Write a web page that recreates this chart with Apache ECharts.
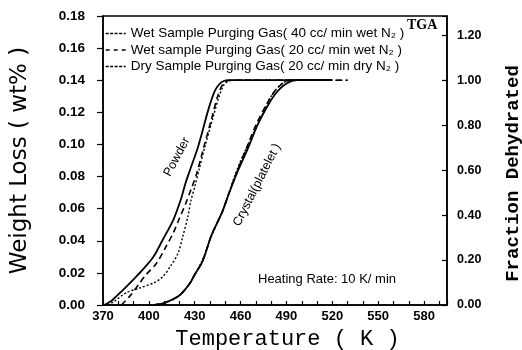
<!DOCTYPE html>
<html>
<head>
<meta charset="utf-8">
<script src="https://cdn.jsdelivr.net/npm/echarts@6/dist/echarts.min.js"></script>
<style>
  html, body { margin: 0; padding: 0; background: #fff; }
  #chart { width: 522px; height: 350px; }
</style>
</head>
<body>
<div id="chart"></div>
<script>
// legend names
const seriesNames = [
  'Wet Sample Purging Gas( 40 cc/ min wet N\u2082 )',
  'Wet sample Purging Gas( 20 cc/ min wet N\u2082 )',
  'Dry Sample Purging Gas( 20 cc/ min dry N\u2082 )'
];

// [temperature K, weight loss]
const powderWet40 = [[371, 0], [376, 0.003], [383, 0.0093], [390, 0.016], [396, 0.022], [403, 0.030],
  [409, 0.0405], [416, 0.053], [421, 0.066], [424, 0.076], [428, 0.087], [432, 0.098], [435, 0.108],
  [439, 0.122], [443, 0.133], [446, 0.1375], [449, 0.1395], [452, 0.14], [520, 0.14]];
const powderWet20 = [[382, 0], [388, 0.006], [394, 0.0137], [398, 0.0187], [405, 0.026], [411, 0.036],
  [416, 0.045], [420, 0.054], [424, 0.063], [428, 0.073], [431, 0.081], [435, 0.095], [441, 0.116],
  [445, 0.13], [448, 0.137], [451, 0.1395], [454, 0.14], [530, 0.14]];
const powderDry20 = [[373, 0], [377, 0.002], [385, 0.0075], [394, 0.0106], [403, 0.0137], [409, 0.0175],
  [414, 0.024], [419, 0.032], [422, 0.042], [425.5, 0.055], [427.5, 0.065], [430, 0.0735], [433, 0.085],
  [437, 0.1], [442, 0.117], [446, 0.13], [449, 0.137], [452, 0.1395], [455, 0.14], [515, 0.14]];

const crystalWet40 = [[405, 0], [412, 0.002], [420, 0.006], [427, 0.0137], [430, 0.019], [435, 0.027],
  [441, 0.0436], [448, 0.058], [452, 0.0685], [458, 0.083], [465, 0.098], [471, 0.112], [478, 0.1246],
  [484, 0.133], [490, 0.138], [497, 0.14], [520, 0.14]];
const crystalWet20 = [[403, 0], [412, 0.002], [420, 0.006], [427, 0.0137], [430, 0.019], [435, 0.027],
  [441, 0.0436], [448, 0.058], [452, 0.0685], [458, 0.084], [464, 0.098], [470, 0.112], [477, 0.125],
  [483, 0.134], [489, 0.139], [495, 0.14], [530, 0.14]];
const crystalDry20 = [[400, 0], [410, 0.001], [420, 0.006], [427, 0.014], [435, 0.028], [441, 0.043],
  [448, 0.058], [452, 0.069], [456, 0.08], [461, 0.092], [467, 0.104], [474, 0.118], [480, 0.13],
  [486, 0.137], [492, 0.14], [515, 0.14]];

// axis ranges
const tempMin = 370, tempMax = 595, tempStep = 10, tempLabelStep = 30;
const lossMax = 0.18, lossStep = 0.02;
const fractionMax = 0.18 / 0.14, fractionStep = 0.2;

const chart = echarts.init(document.getElementById('chart'), null, { renderer: 'canvas' });

const lineStyles = [
  { color: '#000', width: 1.8, type: 'solid' },
  { color: '#000', width: 1.6, type: [6, 4] },
  { color: '#000', width: 1.4, type: [2, 2] }
];

function makeSeries(name, data, style) {
  return {
    name: name,
    type: 'line',
    data: data,
    symbol: 'none',
    smooth: 0.3,
    lineStyle: style,
    itemStyle: { color: '#000' },
    z: 3
  };
}

const option = {
  animation: false,
  backgroundColor: '#fff',
  grid: {
    left: 103, right: 75, top: 16, bottom: 45,
    outerBoundsMode: 'none',
    show: true, borderColor: '#000', borderWidth: 1.5
  },
  legend: {
    orient: 'vertical',
    left: 105,
    top: 26.5,
    padding: 0,
    itemWidth: 20,
    itemHeight: 12,
    itemGap: 2.5,
    selectedMode: false,
    itemStyle: { color: 'rgba(0,0,0,0)', borderColor: 'rgba(0,0,0,0)', borderWidth: 0 },
    textStyle: { fontFamily: 'Liberation Sans', fontSize: 13.5, color: '#000' },
    data: [
      { name: seriesNames[0], lineStyle: { type: [3, 1.5], width: 1.3 } },
      { name: seriesNames[1], lineStyle: { type: [4, 4], width: 1.3 } },
      { name: seriesNames[2], lineStyle: { type: [3, 1.5], width: 1.3 } }
    ]
  },
  xAxis: {
    type: 'value',
    min: tempMin,
    max: tempMax,
    interval: tempStep,
    name: 'Temperature ( K )',
    nameLocation: 'middle',
    nameGap: 22,
    nameTextStyle: { fontFamily: 'Liberation Mono', fontSize: 22, color: '#000', padding: [0, 0, 0, 25] },
    axisLine: { lineStyle: { color: '#000', width: 1.5 } },
    axisTick: { inside: true, length: 4, lineStyle: { color: '#000', width: 1.2 } },
    axisLabel: {
      margin: 5,
      fontFamily: 'Liberation Sans', fontWeight: 'bold', fontSize: 13, color: '#000',
      formatter: v => ((v - tempMin) % tempLabelStep === 0 && v <= 580) ? String(v) : ''
    },
    splitLine: { show: false }
  },
  yAxis: [
    {
      type: 'value',
      position: 'left',
      min: 0,
      max: lossMax,
      interval: lossStep,
      name: 'Weight Loss ( wt% )',
      nameLocation: 'middle',
      nameRotate: 90,
      nameGap: 71,
      nameTextStyle: { fontFamily: 'DejaVu Sans', fontSize: 23, color: '#000' },
      axisLine: { show: true, lineStyle: { color: '#000', width: 1.5 } },
      axisTick: { show: true, length: 6, lineStyle: { color: '#000', width: 1.2 } },
      axisLabel: {
        margin: 18,
        fontFamily: 'Liberation Sans', fontWeight: 'bold', fontSize: 13.5, color: '#000',
        formatter: v => v.toFixed(2)
      },
      splitLine: { show: false }
    },
    {
      type: 'value',
      position: 'right',
      min: 0,
      max: fractionMax,
      interval: fractionStep,
      name: 'Fraction Dehydrated',
      nameLocation: 'middle',
      nameRotate: 90,
      nameGap: 57,
      nameTextStyle: { fontFamily: 'Liberation Mono', fontWeight: 'bold', fontSize: 19, color: '#000', padding: [0, 26, 0, 0] },
      axisLine: { show: true, lineStyle: { color: '#000', width: 1.5 } },
      axisTick: { show: true, inside: true, length: 5, lineStyle: { color: '#000', width: 1.2 } },
      axisLabel: {
        margin: 10,
        fontFamily: 'Liberation Sans', fontWeight: 'bold', fontSize: 12.5, color: '#000',
        formatter: v => v > 1.21 ? '' : v.toFixed(2)
      },
      splitLine: { show: false }
    }
  ],
  graphic: [
    {
      type: 'text', x: 407, y: 25,
      style: { text: 'TGA', font: 'bold 14px "Liberation Serif"', fill: '#000',
        textAlign: 'left', textVerticalAlign: 'middle', align: 'left', verticalAlign: 'middle' }
    },
    {
      type: 'text', x: 258, y: 279,
      style: { text: 'Heating Rate: 10 K/ min', font: '13px "Liberation Sans"', fill: '#000',
        textAlign: 'left', textVerticalAlign: 'middle', align: 'left', verticalAlign: 'middle' }
    },
    {
      type: 'text', x: 177, y: 157, rotation: 62 * Math.PI / 180,
      style: { text: 'Powder', font: '12.5px "Liberation Sans"', fill: '#000',
        textAlign: 'center', textVerticalAlign: 'middle', align: 'center', verticalAlign: 'middle' }
    },
    {
      type: 'text', x: 257, y: 185, rotation: 63 * Math.PI / 180,
      style: { text: 'Crystal(platelet )', font: '12.5px "Liberation Sans"', fill: '#000',
        textAlign: 'center', textVerticalAlign: 'middle', align: 'center', verticalAlign: 'middle' }
    }
  ],
  series: [
    makeSeries(seriesNames[0], powderWet40, lineStyles[0]),
    makeSeries(seriesNames[1], powderWet20, lineStyles[1]),
    makeSeries(seriesNames[2], powderDry20, lineStyles[2]),
    makeSeries(seriesNames[0], crystalWet40, lineStyles[0]),
    makeSeries(seriesNames[1], crystalWet20, lineStyles[1]),
    makeSeries(seriesNames[2], crystalDry20, lineStyles[2])
  ]
};

chart.setOption(option);
</script>
</body>
</html>
